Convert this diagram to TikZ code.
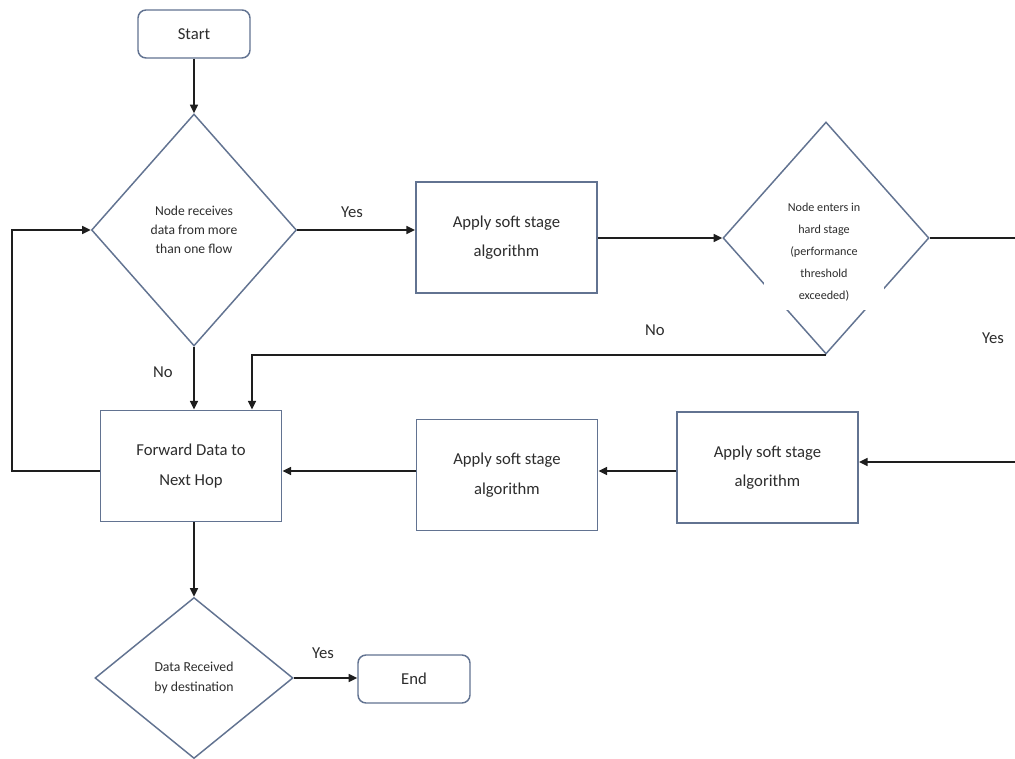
\documentclass[tikz,border=0pt]{standalone}
\usepackage{fontspec}
\setmainfont{Carlito}
\usetikzlibrary{shapes.geometric,arrows.meta}
\definecolor{edgeblue}{RGB}{98,115,145}
\definecolor{txt}{RGB}{45,45,45}
\definecolor{arrowc}{RGB}{30,30,30}
\begin{document}
\begin{tikzpicture}[x=0.75pt,y=-0.75pt,
  box/.style={draw=edgeblue, line width=1.1pt, fill=white, text=txt, align=center, inner sep=0pt, font=\fontsize{12.5}{22}\selectfont},
  term/.style={box, rounded corners=6pt, minimum width=84pt, minimum height=36pt},
  proc/.style={box, minimum width=136pt, minimum height=83.5pt},
  dec/.style={box, diamond},
  arr/.style={draw=arrowc, line width=1.2pt, -{Triangle[length=6.5pt,width=6pt]}},
  lbl/.style={text=txt, inner sep=0pt, font=\fontsize{12.5}{15}\selectfont}]
\useasboundingbox (0,0) rectangle (1015,759);
\clip (0,0) rectangle (1015,759);
\fill[white] (0,0) rectangle (1015,759);

% nodes
\node[term] (start) at (194,34) {Start};
\node[dec, minimum width=153.75pt, minimum height=174pt, font=\fontsize{10.2}{14.3}\selectfont] (d1) at (194,230) {Node receives\\data from more\\than one flow};
\node[proc] (soft1) at (506.5,237.5) {Apply soft stage\\algorithm};
\node[dec, minimum width=154.5pt, minimum height=174pt] (d2) at (826,238) {};
\node[fill=white, text=txt, align=center, inner sep=0pt, minimum width=90pt, minimum height=86pt, font=\fontsize{9.1}{16.5}\selectfont] (d2t) at (824,252.5) {Node enters in\\hard stage\\(performance\\threshold\\exceeded)};
\node[proc] (fwd) at (191,466) {Forward Data to\\Next Hop};
\node[proc] (soft2) at (507,475) {Apply soft stage\\algorithm};
\node[proc] (soft3) at (767.5,467.5) {Apply soft stage\\algorithm};
\node[dec, minimum width=148.5pt, minimum height=120.75pt, font=\fontsize{10.3}{15}\selectfont] (d3) at (194,678) {Data Received\\by destination};
\node[term] (end) at (414,679) {End};

% helper coordinates
\coordinate (lb) at (12,471);
\coordinate (rb) at (1030,462);
\coordinate (nobend) at (252,353);

% connectors
\draw[arr] (start) -- (d1.north);
\draw[arr] (d1.east) -- (d1.east -| soft1.west);
\draw[arr] (soft1.east |- d2.west) -- (d2.west);
\draw[arr] (d1.south) -- (d1.south |- fwd.north);
\draw[arr] (d2.south) -- (d2.south -| nobend) -- (nobend |- fwd.north);
\draw[arr] (d2.east) -| (rb) -- (rb -| soft3.east);
\draw[arr] (soft3.west |- lb) -- (soft2.east |- lb);
\draw[arr] (soft2.west |- lb) -- (fwd.east |- lb);
\draw[arr] (fwd.west |- lb) -- (lb) |- (d1.west);
\draw[arr] (d3.north |- fwd.south) -- (d3.north);
\draw[arr] (d3.east) -- (d3.east -| end.west);

% labels
\node[lbl] (y1) at (352,212) {Yes};
\node[lbl] (n1) at (163,372) {No};
\node[lbl] (n2) at (655,330) {No};
\node[lbl] (y2) at (993,338) {Yes};
\node[lbl] (y3) at (323,653) {Yes};
\end{tikzpicture}
\end{document}
